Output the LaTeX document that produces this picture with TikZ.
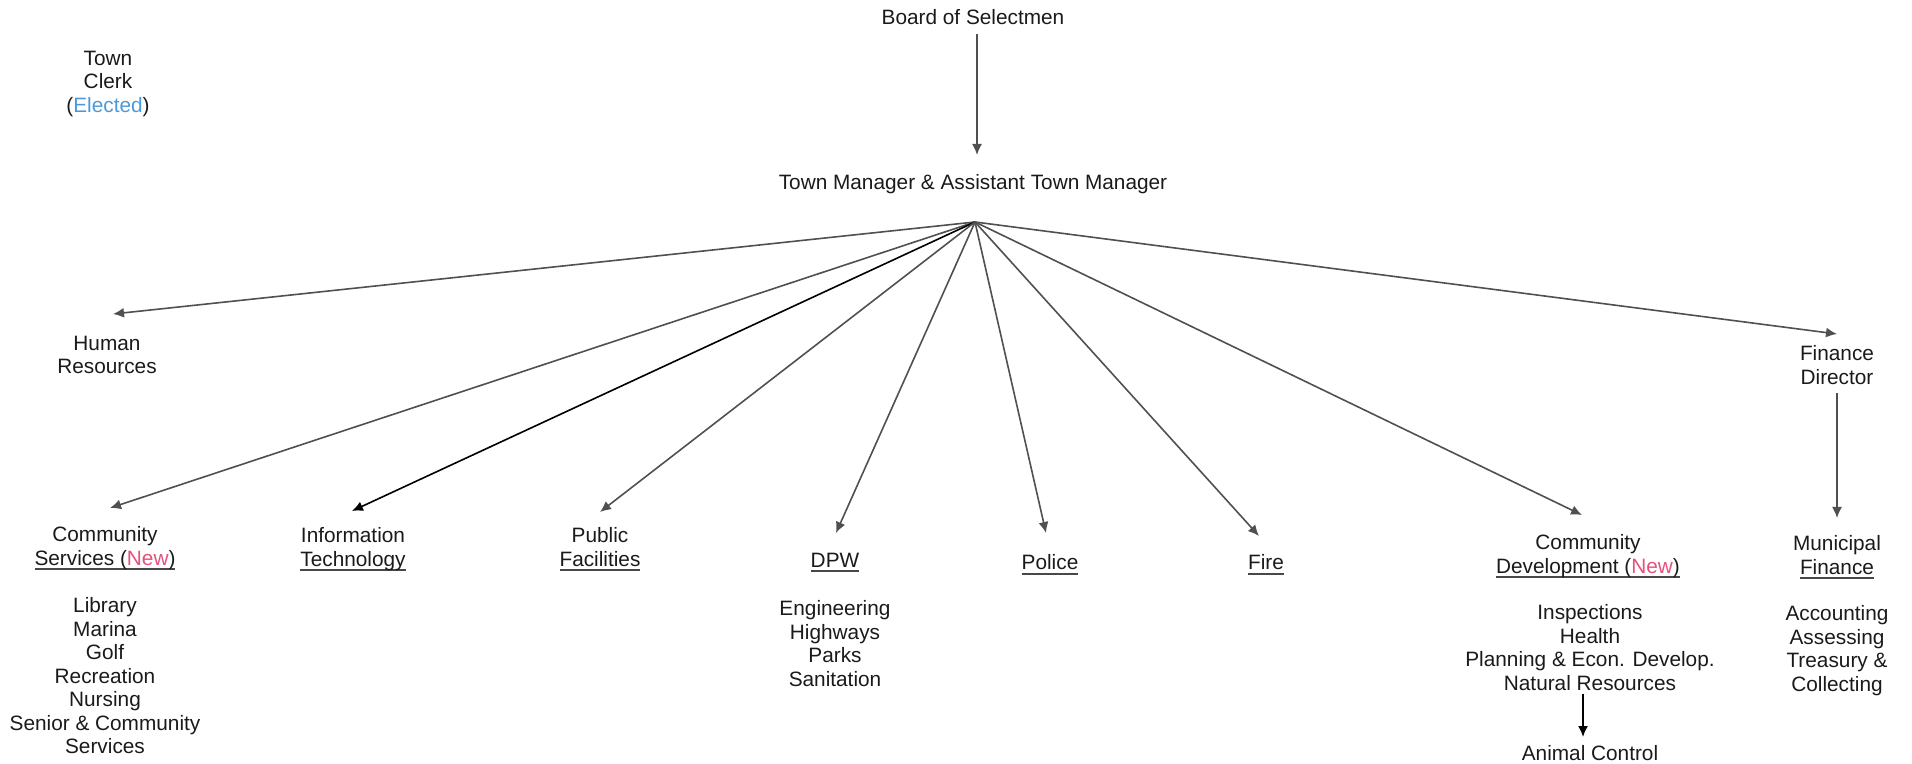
\documentclass[tikz,border=0pt]{standalone}
\usepackage{fontspec}
\setmainfont{Liberation Sans}
\usetikzlibrary{arrows.meta}
\definecolor{txt}{HTML}{1A1A1A}
\definecolor{arrc}{HTML}{505050}
\definecolor{elect}{HTML}{4A9ADB}
\definecolor{newc}{HTML}{E5507C}
\newcommand{\myul}[1]{\setbox0\hbox{#1}\rlap{\textcolor{txt!80}{\rule[-2.4pt]{\wd0}{1pt}}}\box0}
\tikzset{
  lbl/.style={anchor=north, inner sep=0pt, align=center, text=txt,
    font=\fontsize{10.4}{11.75}\selectfont},
  arr/.style={draw=arrc, line width=0.8pt, -{Latex[length=5.5pt,width=5pt]}},
  arrk/.style={draw=black, line width=0.8pt, -{Latex[length=5.5pt,width=5pt]}}
}
\begin{document}
\begin{tikzpicture}[x=0.5pt,y=-0.5pt]
\useasboundingbox (0,0) rectangle (1912,764);
% nodes (anchor north at text top)
\node[lbl] (board) at (973,9.5) {Board of Selectmen};
\node[lbl] (tm) at (973,174.5) {Town Manager \& Assistant Town Manager};
\coordinate (hub) at (975,222);
\node[lbl] (clerk) at (108,50.5) {Town\\Clerk\\(\textcolor{elect}{Elected})};
\node[lbl] (hr) at (107,335.5) {Human\\Resources};
\node[lbl] (cs) at (105,526.5) {Community\\\myul{Services (\textcolor{newc}{New})}};
\node[lbl] (cssub) at (105,597.5) {Library\\Marina\\Golf\\Recreation\\Nursing\\Senior \& Community\\Services};
\node[lbl] (it) at (353,527.5) {Information\\\myul{Technology}};
\node[lbl] (pf) at (600,527.5) {Public\\\myul{Facilities}};
\node[lbl] (dpw) at (835,552.5) {\myul{DPW}};
\node[lbl] (dpwsub) at (835,600.5) {Engineering\\Highways\\Parks\\Sanitation};
\node[lbl] (police) at (1050,554.5) {\myul{Police}};
\node[lbl] (fire) at (1266,554.5) {\myul{Fire}};
\node[lbl] (cd) at (1588,534.5) {Community\\\myul{Development (\textcolor{newc}{New})}};
\node[lbl] (cdsub) at (1590,604.5) {Inspections\\Health\\Planning \& Econ. Develop.\\Natural Resources};
\node[lbl] (ac) at (1590,745.5) {Animal Control};
\node[lbl] (fd) at (1837,345.5) {Finance\\Director};
\node[lbl] (mf) at (1837,535.5) {Municipal\\\myul{Finance}};
\node[lbl] (mfsub) at (1837,605.5) {Accounting\\Assessing\\Treasury \&\\Collecting};
% connectors
\draw[arr] ([xshift=2pt,yshift=-4.25pt]board.south) -- ([xshift=2pt,yshift=9.75pt]tm.north);
\draw[arr] (hub) -- ([xshift=3pt,yshift=10.75pt]hr.north);
\draw[arr] (hub) -- ([xshift=2.5pt,yshift=9.25pt]cs.north);
\draw[arrk] (hub) -- ([xshift=-0.5pt,yshift=8.25pt]it.north);
\draw[arr] (hub) -- ([yshift=7.75pt]pf.north);
\draw[arr] (hub) -- ([xshift=0.5pt,yshift=9.75pt]dpw.north);
\draw[arr] (hub) -- ([xshift=-2pt,yshift=10.75pt]police.north);
\draw[arr] (hub) -- ([xshift=-3.5pt,yshift=9.25pt]fire.north);
\draw[arr] (hub) -- ([xshift=-3pt,yshift=9.75pt]cd.north);
\draw[arr] (hub) -- ([yshift=5.75pt]fd.north);
\draw[arr] ([yshift=-3.75pt]fd.south) -- ([yshift=8.75pt]mf.north);
\draw[arrk] ([xshift=-3.5pt,yshift=-1.25pt]cdsub.south) -- ([xshift=-3.5pt,yshift=4.25pt]ac.north);
\end{tikzpicture}
\end{document}
